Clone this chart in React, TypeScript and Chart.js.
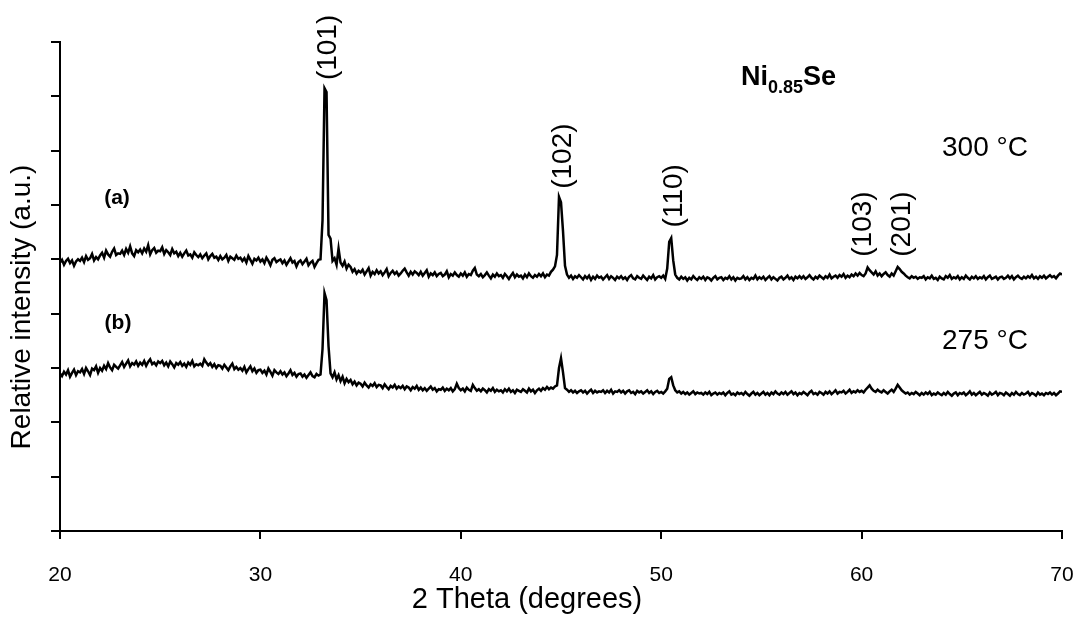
import React, { useEffect, useRef } from "react";
import { Chart, registerables } from "chart.js";

Chart.register(...registerables);

// 2-theta sampling grid (degrees)
const TWO_THETA_START = 20;
const TWO_THETA_STEP = 0.1;

// (a) Ni0.85Se annealed at 300 °C — relative intensity (a.u.), one value per 0.1°
const INTENSITY_300C = [
  494, 499, 490, 497, 501, 493, 498, 488, 496, 500,
  497, 503, 495, 506, 499, 502, 510, 498, 504, 500,
  507, 512, 503, 516, 509, 505, 514, 520, 508, 511,
  510, 516, 508, 519, 512, 524, 511, 506, 517, 513,
  518, 511, 520, 514, 526, 509, 517, 521, 512, 516,
  515, 522, 510, 517, 513, 508, 519, 511, 514, 506,
  512, 505, 511, 516, 507, 509, 503, 513, 508, 504,
  509, 502, 507, 511, 500, 506, 510, 503, 505, 499,
  506, 500, 503, 508, 497, 505, 502, 499, 507, 501,
  503, 497, 502, 494, 506, 499, 492, 501, 498, 503,
  496, 500, 493, 503, 497, 489, 499, 502, 495, 498,
  500, 493, 498, 490, 496, 502, 494, 497, 487, 495,
  498, 491, 496, 501, 489, 494, 497, 486, 493, 499,
  500, 572, 815, 808, 545, 538, 497, 502, 490, 520,
  494, 488, 496, 483, 490, 486, 477, 482, 474, 479,
  476, 481, 472, 478, 484, 470, 477, 473, 480, 474,
  478, 471, 476, 482, 469, 475, 479, 473, 477, 470,
  474, 479, 483, 476, 470, 477, 472, 478, 475, 471,
  477, 470, 475, 480, 468, 474, 471, 476, 469, 473,
  475, 469, 472, 478, 467, 473, 470, 476, 471, 468,
  474, 470, 476, 468, 473, 471, 479, 484, 472, 469,
  473, 467, 471, 476, 470, 465, 472, 468, 474, 469,
  471, 466, 473, 469, 464, 470, 475, 467, 472, 468,
  470, 465, 472, 467, 474, 469, 466, 471, 468, 473,
  469, 474, 467, 472, 470, 477, 481, 487, 508, 615,
  605, 552, 488, 472, 466, 470, 464, 469, 466, 471,
  467, 463, 469, 465, 470, 462, 468, 464, 470, 466,
  468, 463, 467, 471, 464, 469, 466, 462, 468, 465,
  469, 464, 467, 462, 468, 471, 465, 463, 469, 466,
  464, 470, 466, 462, 468, 465, 471, 463, 467, 469,
  466, 470, 464, 483, 532, 539, 498, 472, 466, 463,
  468, 464, 467, 461, 466, 463, 469, 465, 462, 467,
  464, 468, 462, 467, 465, 461, 466, 469, 463, 466,
  467, 462, 466, 464, 469, 463, 467, 461, 466, 464,
  465, 469, 463, 467, 462, 466, 464, 470, 463, 467,
  464, 468, 462, 466, 469, 463, 467, 464, 461, 466,
  468, 463, 466, 470, 464, 467, 462, 468, 465, 469,
  465, 469, 464, 467, 471, 466, 463, 468, 465, 470,
  467, 464, 469, 466, 472, 465, 468, 470, 466, 471,
  468, 473, 466, 470, 467, 472, 469, 474, 470, 475,
  471, 469, 474, 485, 480, 476, 472, 478, 470, 474,
  469, 473, 476, 471, 468, 474, 470, 478, 486, 482,
  477, 474, 470, 467, 465, 469, 466, 468, 464, 467,
  466, 469, 463, 467, 465, 470, 464, 466, 462, 468,
  465, 463, 469, 466, 471, 464, 467, 465, 469, 463,
  467, 464, 470, 466, 463, 468, 465, 469, 464, 467,
  465, 469, 463, 467, 470, 464, 466, 468, 463, 467,
  468, 464, 466, 470, 465, 469, 463, 467, 470, 466,
  464, 468, 465, 469, 466, 471, 465, 468, 464, 469,
  466, 470, 465, 468, 471, 467, 469, 465, 470, 474,
  472,
];

// (b) Ni0.85Se annealed at 275 °C — relative intensity (a.u.), one value per 0.1°
const INTENSITY_275C = [
  290, 285, 293, 288, 296, 284, 291, 297, 287, 294,
  292, 298, 289, 300, 294, 287, 299, 296, 303, 291,
  300, 295, 304, 298, 309, 301, 296, 306, 302, 299,
  305, 311, 302, 308, 314, 303, 309, 306, 312, 304,
  310, 306, 313, 304, 311, 316, 307, 310, 305, 312,
  309, 313, 305, 310, 303, 312, 307, 301, 309, 306,
  311, 304, 308, 302, 310, 306, 313, 303, 307, 305,
  308, 304, 316, 310, 305, 309, 302, 307, 300, 305,
  304, 299, 306, 301, 296, 303, 308, 298, 302, 297,
  300, 295, 302, 292, 298, 303, 294, 299, 291, 296,
  297, 291, 295, 288, 299, 293, 286, 296, 292, 289,
  294, 288, 292, 285, 290, 296, 287, 291, 284, 289,
  290, 284, 288, 282, 287, 292, 285, 283, 289, 286,
  288, 335, 438, 425, 340, 290, 283, 292, 279, 287,
  276, 284, 272, 280, 274, 278, 270, 275, 268, 273,
  271, 266, 273, 268, 264, 270, 267, 272, 265, 269,
  268, 263, 270, 265, 261, 267, 264, 269, 262, 266,
  263, 267, 261, 266, 264, 259, 265, 262, 267, 260,
  264, 259, 263, 258, 262, 266, 260, 263, 257, 261,
  260, 264, 258, 262, 259, 263, 257, 261, 271, 263,
  259, 262, 257, 264, 260, 258, 269, 263, 258, 261,
  257, 262, 259, 255, 261, 258, 263, 256, 260, 257,
  259, 255, 261, 257, 262, 256, 259, 254, 260, 258,
  256, 261, 258, 255, 262, 257, 260, 254, 259, 262,
  258, 263, 260, 265, 261, 264, 262, 266, 268, 300,
  318, 292, 263, 260, 256, 259, 255, 258, 254, 257,
  259, 255, 258, 253, 257, 260, 254, 258, 255, 257,
  256, 259, 254, 258, 255, 260, 253, 257, 256, 259,
  255, 258, 253, 257, 259, 254, 256, 252, 258, 255,
  257, 253, 256, 259, 254, 257, 252, 256, 258, 254,
  256, 253, 257, 262, 280, 283, 268, 259, 255, 257,
  253, 256, 252, 255, 251, 254, 257, 252, 255, 253,
  254, 251, 255, 252, 256, 250, 253, 255, 251, 254,
  252, 255, 250, 254, 257, 251, 253, 250, 255, 252,
  254, 251, 256, 252, 249, 253, 256, 251, 254, 250,
  253, 256, 251, 254, 250, 255, 252, 257, 253, 251,
  255, 252, 256, 251, 254, 257, 252, 255, 250, 254,
  252, 256, 253, 250, 255, 258, 252, 254, 251, 256,
  254, 251, 256, 253, 257, 252, 255, 259, 253, 256,
  255, 258, 253, 256, 260, 254, 257, 255, 259, 256,
  258, 255, 260, 264, 268, 262, 258, 256, 260, 257,
  255, 259, 256, 253, 257, 260, 256, 262, 269, 264,
  259, 256, 253, 255, 251, 254, 252, 256, 253, 250,
  254, 251, 255, 252, 256, 250, 253, 251, 255, 252,
  250, 254, 251, 256, 252, 249, 253, 255, 250, 254,
  252, 255, 250, 253, 257, 251, 254, 250, 253, 256,
  251, 254, 252, 249, 255, 251, 253, 256, 250, 254,
  253, 250, 255, 252, 249, 254, 251, 256, 252, 250,
  254, 251, 253, 256, 250, 254, 252, 249, 255, 251,
  253, 250, 254, 252, 255, 251, 254, 250, 253, 257,
  256,
];

// Peak (hkl) labels: text, 2θ position, intensity level of label centre
const PEAK_LABELS = ["(101)", "(102)", "(110)", "(103)", "(201)"];
const PEAK_LABEL_X = [33.4, 45.1, 50.65, 60.1, 62.05];
const PEAK_LABEL_Y = [890, 690, 617, 565, 565];

const X_MIN = 20;
const X_MAX = 70;
const X_TICK_STEP = 10;
const Y_MIN = 0;
const Y_MAX = 900;
const Y_TICK_STEP = 100;

const FONT = "'Liberation Sans', Arial, Helvetica, sans-serif";

function toPoints(values: number[]) {
  return values.map((v, i) => ({
    x: Math.round((TWO_THETA_START + i * TWO_THETA_STEP) * 10) / 10,
    y: v,
  }));
}

const textPlugin = {
  id: "xrdText",
  afterDraw(chart: any) {
    const ctx = chart.ctx as CanvasRenderingContext2D;
    const xs = chart.scales.x;
    const ys = chart.scales.y;
    ctx.save();
    ctx.fillStyle = "#000";

    // peak labels (rotated)
    ctx.font = `28px ${FONT}`;
    ctx.textAlign = "center";
    ctx.textBaseline = "middle";
    PEAK_LABELS.forEach((t, i) => {
      const px = xs.getPixelForValue(PEAK_LABEL_X[i]);
      const py = ys.getPixelForValue(PEAK_LABEL_Y[i]);
      ctx.save();
      ctx.translate(px, py);
      ctx.rotate(-Math.PI / 2);
      ctx.fillText(t, 0, 0);
      ctx.restore();
    });

    // temperature labels
    ctx.font = `28px ${FONT}`;
    ctx.textAlign = "center";
    ctx.textBaseline = "middle";
    ctx.fillText("300 \u00B0C", 985, 148);
    ctx.fillText("275 \u00B0C", 985, 341);

    // sample labels
    ctx.font = `bold 21px ${FONT}`;
    ctx.fillText("(a)", 117, 198);
    ctx.fillText("(b)", 118, 323);

    // formula Ni0.85Se
    ctx.textAlign = "left";
    ctx.textBaseline = "alphabetic";
    ctx.font = `bold 27px ${FONT}`;
    ctx.fillText("Ni", 741, 85);
    const w = ctx.measureText("Ni").width;
    ctx.font = `bold 18px ${FONT}`;
    ctx.fillText("0.85", 741 + w, 93);
    const w2 = ctx.measureText("0.85").width;
    ctx.font = `bold 27px ${FONT}`;
    ctx.fillText("Se", 741 + w + w2, 85);

    // axis titles
    ctx.font = `29px ${FONT}`;
    ctx.textAlign = "center";
    ctx.textBaseline = "alphabetic";
    ctx.fillText("2 Theta (degrees)", 527, 608);

    ctx.font = `28px ${FONT}`;
    ctx.save();
    ctx.translate(22, 307);
    ctx.rotate(-Math.PI / 2);
    ctx.textBaseline = "middle";
    ctx.fillText("Relative intensity (a.u.)", 0, 0);
    ctx.restore();

    ctx.restore();
  },
};

export default function App() {
  const canvasRef = useRef<HTMLCanvasElement | null>(null);

  useEffect(() => {
    document.body.style.margin = "0";
    document.body.style.overflow = "hidden";
    const canvas = canvasRef.current;
    if (!canvas) return;
    const chart = new Chart(canvas, {
      type: "line",
      data: {
        datasets: [
          {
            label: "300 °C",
            data: toPoints(INTENSITY_300C),
            borderColor: "#000",
            borderWidth: 2.5,
            pointRadius: 0,
            tension: 0,
            fill: false,
          },
          {
            label: "275 °C",
            data: toPoints(INTENSITY_275C),
            borderColor: "#000",
            borderWidth: 2.5,
            pointRadius: 0,
            tension: 0,
            fill: false,
          },
        ],
      },
      options: {
        responsive: false,
        animation: false,
        devicePixelRatio: 1,
        layout: { padding: { top: 42, right: 16, left: 0, bottom: 0 } },
        plugins: {
          legend: { display: false },
          tooltip: { enabled: false },
        },
        scales: {
          x: {
            type: "linear",
            min: X_MIN,
            max: X_MAX,
            ticks: {
              stepSize: X_TICK_STEP,
              color: "#000",
              font: { family: FONT, size: 21 },
              padding: 24,
              maxRotation: 0,
            },
            grid: {
              drawOnChartArea: false,
              drawTicks: true,
              tickLength: 8,
              color: "#000",
              lineWidth: 2,
            },
            border: { display: true, color: "#000", width: 2 },
            afterFit(scale: any) {
              scale.height = 88;
              scale.paddingLeft = 0;
              scale.paddingRight = 0;
            },
          },
          y: {
            type: "linear",
            min: Y_MIN,
            max: Y_MAX,
            ticks: {
              stepSize: Y_TICK_STEP,
              display: false,
            },
            grid: {
              drawOnChartArea: false,
              drawTicks: true,
              tickLength: 9,
              color: "#000",
              lineWidth: 2,
            },
            border: { display: true, color: "#000", width: 2 },
            afterFit(scale: any) {
              scale.width = 60;
              scale.paddingTop = 0;
              scale.paddingBottom = 0;
            },
          },
        },
      },
      plugins: [textPlugin],
    });
    return () => chart.destroy();
  }, []);

  return (
    <canvas
      ref={canvasRef}
      width={1078}
      height={619}
      style={{ display: "block", width: "1078px", height: "619px" }}
    />
  );
}
